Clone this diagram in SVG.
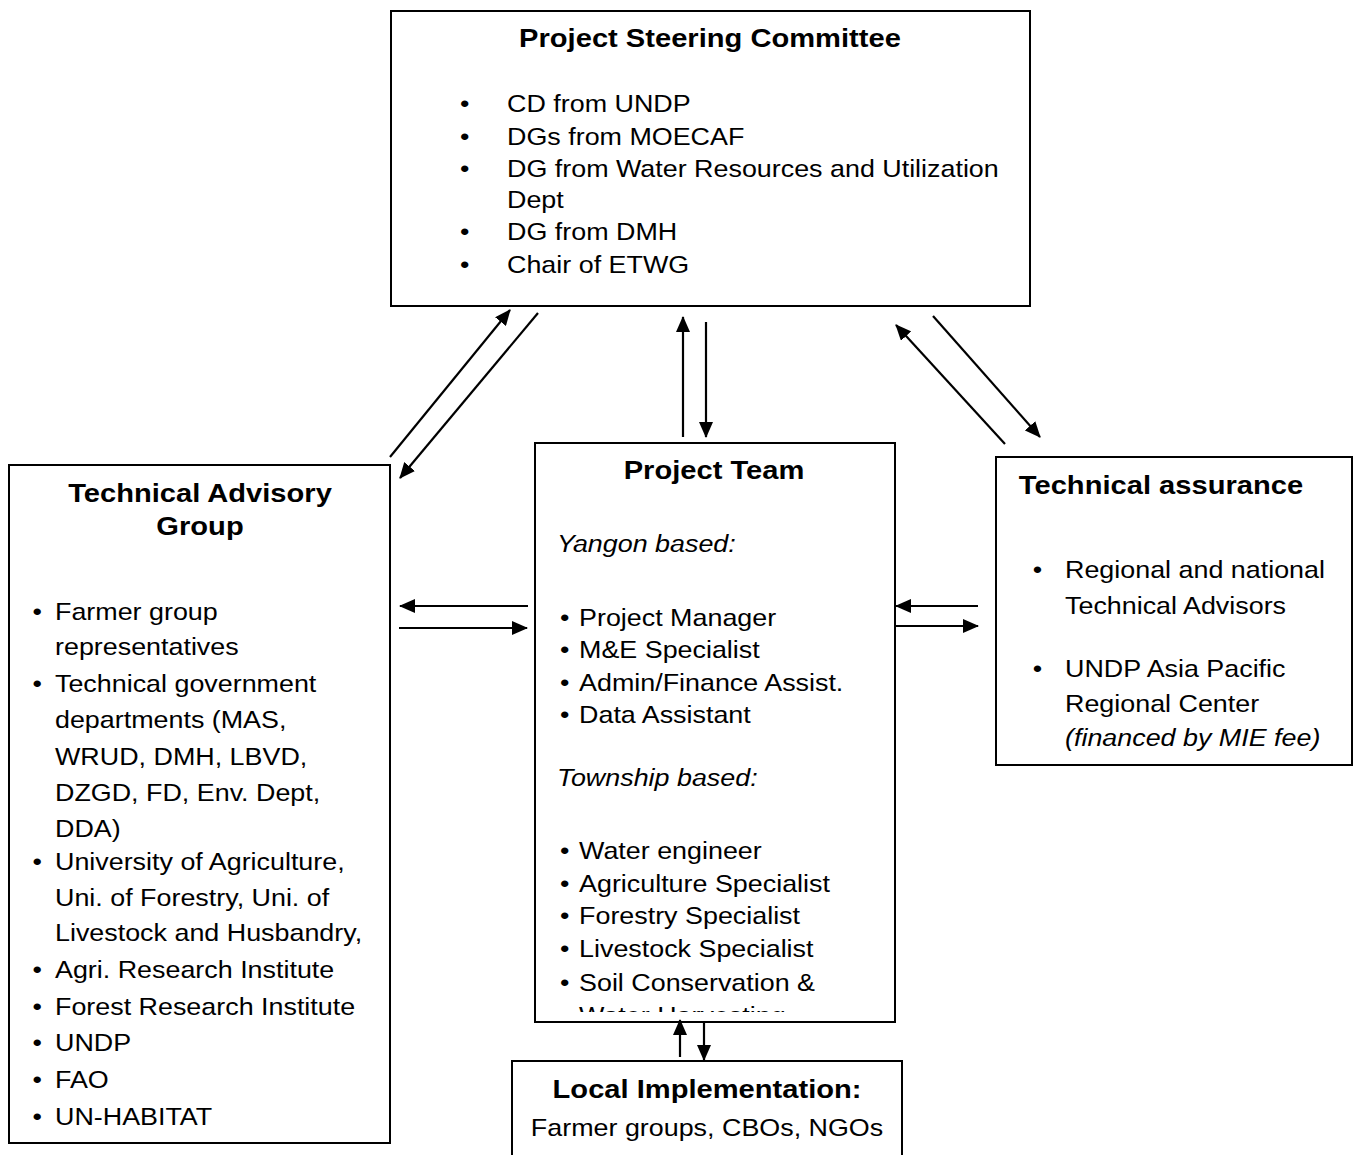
<svg xmlns="http://www.w3.org/2000/svg" width="1353" height="1155" viewBox="0 0 1353 1155">
<style>
.box{fill:#fff;stroke:#000;stroke-width:2}
text{font-family:"Liberation Sans",Arial,sans-serif;font-size:24px;fill:#000}
.t{font-weight:bold;font-size:26px;text-anchor:middle}
.i{font-style:italic}
.m{text-anchor:middle}
.c{stroke:#000;stroke-width:2.2;fill:none;marker-end:url(#ah)}
</style>
<defs>
<marker id="ah" viewBox="0 0 16 14" refX="15" refY="7" markerWidth="16" markerHeight="14" markerUnits="userSpaceOnUse" orient="auto">
<path d="M0,0 L16,7 L0,14 Z" fill="#000"/>
</marker>
<clipPath id="ptclip"><rect x="535" y="443" width="360" height="569"/></clipPath>
</defs>
<rect width="1353" height="1155" fill="#fff"/>

<g id="steering">
<rect class="box" x="391" y="11" width="639" height="295"/>
<g transform="scale(1.12,1)">
<text class="t" x="633.9" y="47">Project Steering Committee</text>
<text x="410.7" y="112">•</text><text x="452.7" y="112">CD from UNDP</text>
<text x="410.7" y="145">•</text><text x="452.7" y="145">DGs from MOECAF</text>
<text x="410.7" y="177">•</text><text x="452.7" y="177">DG from Water Resources and Utilization</text>
<text x="452.7" y="208">Dept</text>
<text x="410.7" y="240">•</text><text x="452.7" y="240">DG from DMH</text>
<text x="410.7" y="273">•</text><text x="452.7" y="273">Chair of ETWG</text>
</g>
</g>

<g id="tag">
<rect class="box" x="9" y="465" width="381" height="678"/>
<g transform="scale(1.12,1)">
<text class="t" x="178.6" y="502">Technical Advisory</text>
<text class="t" x="178.6" y="535">Group</text>
<text x="29" y="620">•</text><text x="49.1" y="620">Farmer group</text>
<text x="49.1" y="655">representatives</text>
<text x="29" y="692">•</text><text x="49.1" y="692">Technical government</text>
<text x="49.1" y="728">departments (MAS,</text>
<text x="49.1" y="765">WRUD, DMH, LBVD,</text>
<text x="49.1" y="801">DZGD, FD, Env. Dept,</text>
<text x="49.1" y="837">DDA)</text>
<text x="29" y="870">•</text><text x="49.1" y="870">University of Agriculture,</text>
<text x="49.1" y="906">Uni. of Forestry, Uni. of</text>
<text x="49.1" y="941">Livestock and Husbandry,</text>
<text x="29" y="978">•</text><text x="49.1" y="978">Agri. Research Institute</text>
<text x="29" y="1015">•</text><text x="49.1" y="1015">Forest Research Institute</text>
<text x="29" y="1051">•</text><text x="49.1" y="1051">UNDP</text>
<text x="29" y="1088">•</text><text x="49.1" y="1088">FAO</text>
<text x="29" y="1125">•</text><text x="49.1" y="1125">UN-HABITAT</text>
</g>
</g>

<g id="team">
<rect class="box" x="535" y="443" width="360" height="579"/>
<g transform="scale(1.12,1)">
<text class="t" x="637.5" y="479">Project Team</text>
</g>
<g clip-path="url(#ptclip)">
<g transform="scale(1.12,1)">
<text class="i" x="497.3" y="552">Yangon based:</text>
<text x="500" y="626">•</text><text x="517" y="626">Project Manager</text>
<text x="500" y="658">•</text><text x="517" y="658">M&amp;E Specialist</text>
<text x="500" y="691">•</text><text x="517" y="691">Admin/Finance Assist.</text>
<text x="500" y="723">•</text><text x="517" y="723">Data Assistant</text>
<text class="i" x="497.3" y="786">Township based:</text>
<text x="500" y="859">•</text><text x="517" y="859">Water engineer</text>
<text x="500" y="892">•</text><text x="517" y="892">Agriculture Specialist</text>
<text x="500" y="924">•</text><text x="517" y="924">Forestry Specialist</text>
<text x="500" y="957">•</text><text x="517" y="957">Livestock Specialist</text>
<text x="500" y="991">•</text><text x="517" y="991">Soil Conservation &amp;</text>
<text x="517" y="1024">Water Harvesting</text>
</g>
</g>
</g>

<g id="assurance">
<rect class="box" x="996" y="457" width="356" height="308"/>
<g transform="scale(1.12,1)">
<text class="t" x="1036.6" y="494">Technical assurance</text>
<text x="922" y="578">•</text><text x="950.9" y="578">Regional and national</text>
<text x="950.9" y="614">Technical Advisors</text>
<text x="922" y="677">•</text><text x="950.9" y="677">UNDP Asia Pacific</text>
<text x="950.9" y="712">Regional Center</text>
<text class="i" x="950.9" y="746">(financed by MIE fee)</text>
</g>
</g>

<g id="local">
<rect class="box" x="512" y="1061" width="390" height="100"/>
<g transform="scale(1.12,1)">
<text class="t" x="631.3" y="1098">Local Implementation:</text>
<text class="m" x="631.3" y="1136">Farmer groups, CBOs, NGOs</text>
</g>
</g>

<g id="connectors">
<line class="c" x1="390" y1="457" x2="510" y2="310"/>
<line class="c" x1="538" y1="313" x2="400" y2="478"/>
<line class="c" x1="683" y1="437" x2="683" y2="317"/>
<line class="c" x1="706" y1="322" x2="706" y2="437"/>
<line class="c" x1="1005" y1="444" x2="896" y2="325"/>
<line class="c" x1="933" y1="316" x2="1040" y2="437"/>
<line class="c" x1="528" y1="606" x2="400" y2="606"/>
<line class="c" x1="399" y1="628" x2="527" y2="628"/>
<line class="c" x1="978" y1="606" x2="896" y2="606"/>
<line class="c" x1="896" y1="626" x2="978" y2="626"/>
<line class="c" x1="680" y1="1057" x2="680" y2="1020"/>
<line class="c" x1="704" y1="1023" x2="704" y2="1060"/>
</g>
</svg>
